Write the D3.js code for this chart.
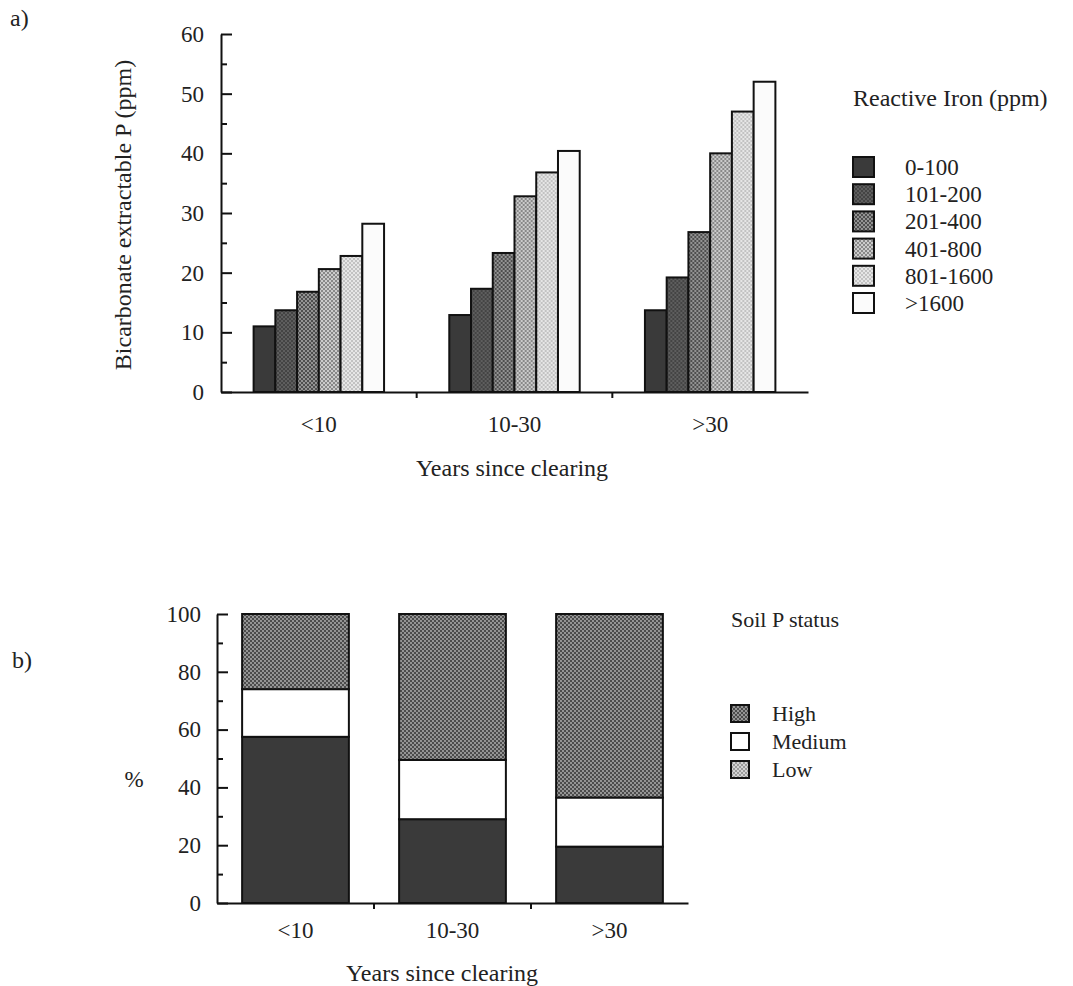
<!DOCTYPE html>
<html>
<head>
<meta charset="utf-8">
<script src="https://cdn.jsdelivr.net/npm/d3@7"></script>
<style>
  body { margin: 0; background: #fff; }
  svg { font-family: "Liberation Serif", "DejaVu Serif", serif; }
  .axis path, .axis line { stroke: #111; stroke-width: 2; }
  .axis text { font-size: 23px; fill: #222; font-family: "Liberation Serif", serif; }
</style>
</head>
<body>
<svg id="chart" width="1073" height="986"></svg>
<script>
// ---- data ----
var years = ["<10", "10-30", ">30"];
var ironClasses = ["0-100", "101-200", "201-400", "401-800", "801-1600", ">1600"];
// bicarbonate extractable P (ppm) per reactive iron class
var pLess10 = [11, 13.7, 16.8, 20.6, 22.8, 28.2];
var p10to30 = [12.9, 17.3, 23.3, 32.8, 36.8, 40.4];
var pOver30 = [13.7, 19.2, 26.8, 40, 47, 52];
var yTicksA = [0, 10, 20, 30, 40, 50, 60];

// soil P status (%)
var statusClasses = ["High", "Medium", "Low"];
var lowPct = [57.5, 29, 19.5];
var mediumPct = [16.5, 20.5, 17];
var highPct = [26, 50.5, 63.5];
var yTicksB = [0, 20, 40, 60, 80, 100];

var svg = d3.select("#chart");
var defs = svg.append("defs");

// dotted fills like the old stipple patterns
function makePattern(id, bg, dot, r) {
  var p = defs.append("pattern")
    .attr("id", id)
    .attr("width", 4).attr("height", 4)
    .attr("patternUnits", "userSpaceOnUse");
  p.append("rect").attr("width", 4).attr("height", 4).attr("fill", bg);
  if (dot) {
    p.append("circle").attr("cx", 1).attr("cy", 1).attr("r", r).attr("fill", dot);
    p.append("circle").attr("cx", 3).attr("cy", 3).attr("r", r).attr("fill", dot);
  }
}
makePattern("f0", "#3a3a3a", null, 0);
makePattern("f1", "#444444", "#8c8c8c", 0.7);
makePattern("f2", "#4e4e4e", "#b4b4b4", 0.9);
makePattern("f3", "#888888", "#e2e2e2", 1.0);
makePattern("f4", "#c2c2c2", "#f2f2f2", 1.0);
makePattern("f5", "#fbfbfb", null, 0);
makePattern("fHigh", "#4c4c4c", "#b8b8b8", 0.9);
makePattern("fLowKey", "#9a9a9a", "#e6e6e6", 1.0);

var ironFill = ["url(#f0)", "url(#f1)", "url(#f2)", "url(#f3)", "url(#f4)", "url(#f5)"];

// ================= a) =================
var gA = svg.append("g");
var xA = d3.scaleBand().domain(years).range([221, 808]);
var xInner = d3.scaleBand().domain(ironClasses).range([0, xA.bandwidth()]).paddingOuter(1.5);
var yA = d3.scaleLinear().domain([0, 60]).range([392, 34]);

var tableA = years.map(function(y, i) {
  return { year: y, values: [pLess10, p10to30, pOver30][i] };
});

var groups = gA.selectAll(".grp").data(tableA).enter().append("g")
  .attr("transform", function(d) { return "translate(" + xA(d.year) + ",0)"; });

groups.selectAll("rect").data(function(d) { return d.values; }).enter().append("rect")
  .attr("x", function(d, i) { return xInner(ironClasses[i]); })
  .attr("y", function(d) { return yA(d); })
  .attr("width", xInner.bandwidth())
  .attr("height", function(d) { return yA(0) - yA(d); })
  .attr("fill", function(d, i) { return ironFill[i]; })
  .attr("stroke", "#111")
  .attr("stroke-width", 2);

// y axis: major ticks inward with labels, minor ticks at 5s
gA.append("g").attr("class", "axis")
  .attr("transform", "translate(221,0)")
  .call(d3.axisLeft(yA).tickValues(yTicksA).tickSizeInner(-11).tickSizeOuter(0).tickPadding(17));
gA.append("g").attr("class", "axis")
  .attr("transform", "translate(221,0)")
  .call(d3.axisLeft(yA).tickValues(d3.range(5, 60, 10)).tickSizeInner(-6).tickSizeOuter(0).tickFormat(""))
  .select(".domain").remove();

// x axis with ticks at group boundaries
var axA = gA.append("g").attr("class", "axis")
  .attr("transform", "translate(0,392)")
  .call(d3.axisBottom(xA).tickSize(0).tickPadding(24));
axA.selectAll(".bnd").data(years.slice(1)).enter().append("line")
  .attr("x1", function(d) { return xA(d); }).attr("x2", function(d) { return xA(d); })
  .attr("y1", 0).attr("y2", 6);

gA.append("text").attr("x", 512).attr("y", 476).attr("text-anchor", "middle")
  .attr("font-size", 24).attr("fill", "#222").text("Years since clearing");
gA.append("text").attr("transform", "translate(131,215) rotate(-90)").attr("text-anchor", "middle")
  .attr("font-size", 24).attr("fill", "#222").text("Bicarbonate extractable P (ppm)");
gA.append("text").attr("x", 10).attr("y", 26).attr("font-size", 24).attr("fill", "#222").text("a)");

// legend a
var legA = gA.append("g").attr("transform", "translate(853,0)");
legA.append("text").attr("x", 0).attr("y", 106).attr("font-size", 24).attr("fill", "#222").text("Reactive Iron (ppm)");
var legRow = d3.scalePoint().domain(ironClasses).range([167, 303]);
legA.selectAll(".key").data(ironClasses).enter().append("rect")
  .attr("x", 0).attr("y", function(d) { return legRow(d) - 10; })
  .attr("width", 21).attr("height", 20)
  .attr("fill", function(d, i) { return ironFill[i]; })
  .attr("stroke", "#111").attr("stroke-width", 2);
legA.selectAll(".lab").data(ironClasses).enter().append("text")
  .attr("x", 52).attr("y", function(d) { return legRow(d) + 8; })
  .attr("font-size", 23).attr("fill", "#222").text(function(d) { return d; });

// ================= b) =================
var gB = svg.append("g");
var xB = d3.scaleBand().domain(years).range([217, 688]).paddingInner(0.32).paddingOuter(0.16);
var xBnd = d3.scaleBand().domain(years).range([217, 688]);
var yB = d3.scaleLinear().domain([0, 100]).range([903, 614]);

var tableB = years.map(function(y, i) {
  return { year: y, Low: lowPct[i], Medium: mediumPct[i], High: highPct[i] };
});
var stackB = d3.stack().keys(["Low", "Medium", "High"])(tableB);
var fillB = { Low: "#3a3a3a", Medium: "#ffffff", High: "url(#fHigh)" };

gB.selectAll(".layer").data(stackB).enter().append("g")
  .attr("fill", function(d) { return fillB[d.key]; })
  .selectAll("rect").data(function(d) { return d; }).enter().append("rect")
  .attr("x", function(d) { return xB(d.data.year); })
  .attr("y", function(d) { return yB(d[1]); })
  .attr("width", xB.bandwidth())
  .attr("height", function(d) { return yB(d[0]) - yB(d[1]); })
  .attr("stroke", "#111").attr("stroke-width", 2);

gB.append("g").attr("class", "axis")
  .attr("transform", "translate(217,0)")
  .call(d3.axisLeft(yB).tickValues(yTicksB).tickSizeInner(-11).tickSizeOuter(0).tickPadding(16));
gB.append("g").attr("class", "axis")
  .attr("transform", "translate(217,0)")
  .call(d3.axisLeft(yB).tickValues(d3.range(10, 100, 20)).tickSizeInner(-6).tickSizeOuter(0).tickFormat(""))
  .select(".domain").remove();

var axB = gB.append("g").attr("class", "axis")
  .attr("transform", "translate(0,903)")
  .call(d3.axisBottom(xBnd).tickSize(0).tickPadding(19));
axB.selectAll(".bnd").data(years.slice(1)).enter().append("line")
  .attr("x1", function(d) { return xBnd(d); }).attr("x2", function(d) { return xBnd(d); })
  .attr("y1", 0).attr("y2", 6);

gB.append("text").attr("x", 442).attr("y", 981).attr("text-anchor", "middle")
  .attr("font-size", 24).attr("fill", "#222").text("Years since clearing");
gB.append("text").attr("x", 134).attr("y", 787).attr("text-anchor", "middle")
  .attr("font-size", 23).attr("fill", "#222").text("%");
gB.append("text").attr("x", 12).attr("y", 668).attr("font-size", 24).attr("fill", "#222").text("b)");

var legB = gB.append("g").attr("transform", "translate(731,0)");
legB.append("text").attr("x", 0).attr("y", 627).attr("font-size", 22).attr("fill", "#222").text("Soil P status");
var legRowB = d3.scalePoint().domain(statusClasses).range([713, 769]);
var keyFillB = { High: "url(#fHigh)", Medium: "#ffffff", Low: "url(#fLowKey)" };
legB.selectAll(".key").data(statusClasses).enter().append("rect")
  .attr("x", 0).attr("y", function(d) { return legRowB(d) - 8; })
  .attr("width", 18).attr("height", 17)
  .attr("fill", function(d) { return keyFillB[d]; })
  .attr("stroke", "#111").attr("stroke-width", 2);
legB.selectAll(".lab").data(statusClasses).enter().append("text")
  .attr("x", 41).attr("y", function(d) { return legRowB(d) + 8; })
  .attr("font-size", 22).attr("fill", "#222").text(function(d) { return d; });
</script>
</body>
</html>
